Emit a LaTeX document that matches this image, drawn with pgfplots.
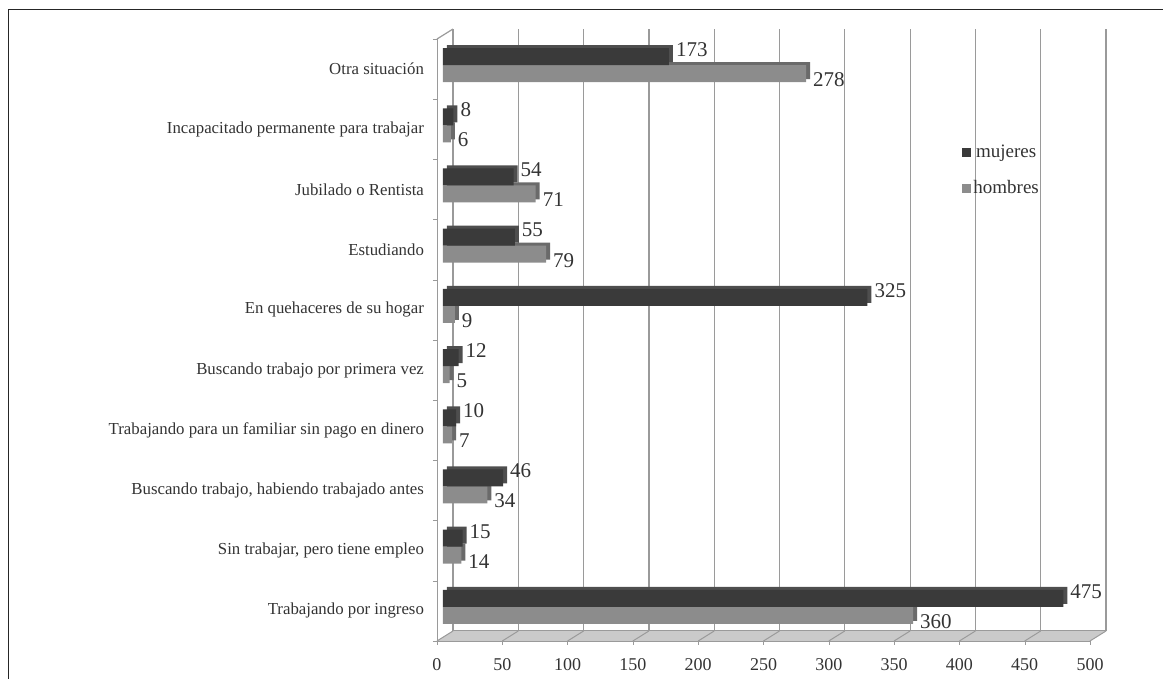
\documentclass[border=0pt]{standalone}
\usepackage{pgfplots}
\pgfplotsset{compat=1.18}
\usepackage{fontspec}
\setmainfont{Liberation Serif}
\definecolor{darkbar}{HTML}{3A3A3A}
\definecolor{darkside}{HTML}{4E4E4E}
\definecolor{graybar}{HTML}{8C8C8C}
\definecolor{grayside}{HTML}{6A6A6A}
\definecolor{gridc}{HTML}{9A9A9A}
\definecolor{floorc}{HTML}{CACACA}
\definecolor{txt}{HTML}{333333}
\pgfplotstableread{
y m h
0 475 360
1 15 14
2 46 34
3 10 7
4 12 5
5 325 9
6 55 79
7 54 71
8 8 6
9 173 278
}\datatab
\begin{document}
\begin{tikzpicture}
\begin{axis}[
  at={(0,0)}, anchor=south west,
  scale only axis, width=326.5pt, height=301pt,
  xmin=0, xmax=500, ymin=-0.5, ymax=9.5,
  set layers, clip=false,
  xbar, bar width=8.5pt,
  axis x line*=bottom, axis y line*=left,
  axis line style={gridc, -},
  xtick={0,50,...,500},
  ytick={0,...,9},
  minor ytick={-0.5,0.5,...,9.5},
  yticklabels={Trabajando por ingreso, {Sin trabajar, pero tiene empleo}, {Buscando trabajo, habiendo trabajado antes}, Trabajando para un familiar sin pago en dinero, Buscando trabajo por primera vez, En quehaceres de su hogar, Estudiando, Jubilado o Rentista, Incapacitado permanente para trabajar, Otra situación},
  tick align=outside, major tick length=2pt, minor tick length=2pt,
  major y tick style={draw=none},
  tick style={gridc},
  /pgf/number format/assume math mode=true,
  xticklabel style={font=\fontsize{9}{10}\selectfont, text=txt, yshift=-3pt},
  yticklabel style={font=\fontsize{8.4}{10}\selectfont, text=txt, xshift=-1pt},
  legend style={at={(axis cs:402,7.78)}, anchor=north west, draw=none, fill=none,
    font=\fontsize{9.5}{10}\selectfont, text=txt, row sep=8pt, inner sep=0pt,
    nodes={inner sep=1pt}},
  legend image code/.code={\fill (0pt,-2.25pt) rectangle (4.5pt,2.25pt);},
  reverse legend,
  nodes near coords style={font=\fontsize{10.5}{11}\selectfont, text=txt, anchor=west},
]
\begin{pgfonlayer}{axis background}
  \fill[floorc] (axis cs:0,-0.5) -- (axis cs:500,-0.5) -- ([shift={(8pt,5pt)}]axis cs:500,-0.5) -- ([shift={(8pt,5pt)}]axis cs:0,-0.5) -- cycle;
  \pgfplotsinvokeforeach{0,50,...,500}{
    \draw[gridc, line width=0.6pt] ([shift={(8pt,5pt)}]axis cs:#1,-0.5) -- ([shift={(8pt,5pt)}]axis cs:#1,9.5);
    \draw[gridc, line width=0.5pt] (axis cs:#1,-0.5) -- ([shift={(8pt,5pt)}]axis cs:#1,-0.5);
  }
  \draw[gridc, line width=0.5pt] ([shift={(8pt,5pt)}]axis cs:0,-0.5) -- ([shift={(8pt,5pt)}]axis cs:500,-0.5);
  \draw[gridc, line width=0.6pt] (axis cs:0,9.5) -- ([shift={(8pt,5pt)}]axis cs:0,9.5);
\end{pgfonlayer}
% hombres
\addplot[forget plot, draw=none, fill=grayside, xshift=5pt, bar shift=-0.75pt] table[x=h, y=y] {\datatab};
\addplot[draw=none, fill=graybar, xshift=3pt, bar shift=-2.25pt,
  nodes near coords, nodes near coords style={yshift=-3pt}] table[x=h, y=y] {\datatab};
\addlegendentry{hombres}
% mujeres
\addplot[forget plot, draw=none, fill=darkside, xshift=5pt, bar shift=7.75pt] table[x=m, y=y] {\datatab};
\addplot[draw=none, fill=darkbar, xshift=3pt, bar shift=6.25pt,
  nodes near coords, nodes near coords style={yshift=3.5pt}] table[x=m, y=y] {\datatab};
\addlegendentry{mujeres}
\end{axis}
\pgfresetboundingbox
\useasboundingbox (-218.5pt,-19pt) rectangle (363pt,320.5pt);
\draw[line width=0.8pt, black!85] (-214.25pt,-60pt) -- (-214.25pt,315.75pt) -- (420pt,315.75pt);
\end{tikzpicture}
\end{document}
